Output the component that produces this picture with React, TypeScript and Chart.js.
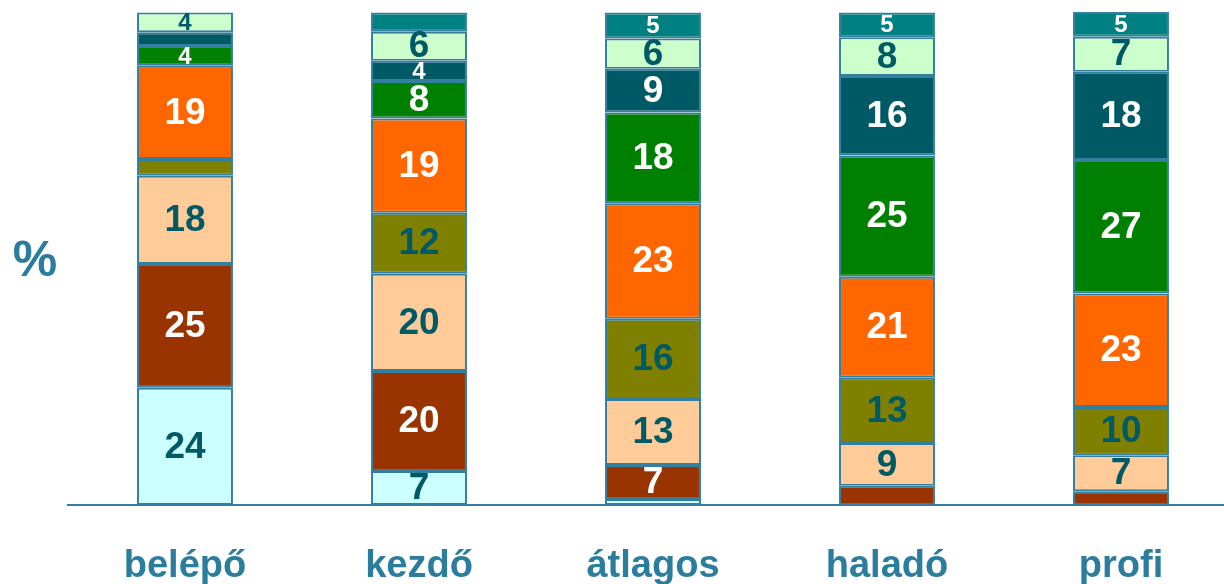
import React, { useEffect, useRef } from "react";
import { Chart, registerables } from "chart.js";

Chart.register(...registerables);

const categories = ["belépő", "kezdő", "átlagos", "haladó", "profi"];

// series from bottom to top of each bar (percent)
const lightCyan = [23.8, 6.9, 1.2, null, null];
const brown = [25.1, 20.3, 6.9, 3.9, 2.8];
const peach = [17.9, 19.7, 13.4, 8.7, 7.3];
const olive = [3.4, 12.4, 16.3, 13.2, 9.8];
const orange = [18.9, 19.1, 23.4, 20.5, 23.0];
const green = [4.0, 7.6, 18.4, 24.6, 27.1];
const darkTeal = [2.8, 4.1, 8.9, 16.1, 17.9];
const lightGreen = [4.0, 5.9, 6.1, 7.9, 7.1];
const teal = [null, 3.9, 5.3, 5.0, 5.0];

const yAxisTitle = "%";

const FONT = "'Liberation Sans', Arial, sans-serif";
const DARK_TEXT = "#005A66";
const AXIS_COLOR = "#347FA0";
const LABEL_COLOR = "#2B7D9E";

const seriesDefs = [
  { data: lightCyan, color: "#CCFFFF", text: DARK_TEXT },
  { data: brown, color: "#993300", text: "#FFFFFF" },
  { data: peach, color: "#FFCC99", text: DARK_TEXT },
  { data: olive, color: "#808000", text: DARK_TEXT },
  { data: orange, color: "#FF6600", text: "#FFFFFF" },
  { data: green, color: "#008000", text: "#FFFFFF" },
  { data: darkTeal, color: "#005A66", text: "#FFFFFF" },
  { data: lightGreen, color: "#CCFFCC", text: DARK_TEXT },
  { data: teal, color: "#008080", text: "#FFFFFF" },
];

const valueLabels = {
  id: "valueLabels",
  afterDatasetsDraw(chart: any) {
    const ctx = chart.ctx;
    ctx.save();
    ctx.textAlign = "center";
    ctx.textBaseline = "middle";
    chart.data.datasets.forEach((ds: any, di: number) => {
      const meta = chart.getDatasetMeta(di);
      meta.data.forEach((bar: any, i: number) => {
        const v = ds.data[i];
        if (v == null || v < 3.95) return;
        const top = Math.min(bar.y, bar.base);
        const h = Math.abs(bar.base - bar.y);
        const size = h >= 27 ? 37 : 24;
        ctx.font = `bold ${size}px ${FONT}`;
        ctx.fillStyle = seriesDefs[di].text;
        ctx.fillText(String(Math.round(v)), bar.x, top + h / 2 + 1);
      });
    });
    ctx.restore();
  },
};

const percentTitle = {
  id: "percentTitle",
  afterDraw(chart: any) {
    const ctx = chart.ctx;
    ctx.save();
    ctx.font = `bold 50px ${FONT}`;
    ctx.fillStyle = LABEL_COLOR;
    ctx.textAlign = "center";
    ctx.textBaseline = "alphabetic";
    ctx.fillText(yAxisTitle, 35, 276);
    ctx.restore();
  },
};

export default function App() {
  const ref = useRef<HTMLCanvasElement | null>(null);

  useEffect(() => {
    if (!ref.current) return;
    const chart = new Chart(ref.current, {
      type: "bar",
      data: {
        labels: categories,
        datasets: seriesDefs.map((s, i) => ({
          label: `S${i + 1}`,
          data: s.data as any,
          backgroundColor: s.color,
          borderColor: AXIS_COLOR,
          borderWidth: 2,
          borderSkipped: false,
          categoryPercentage: 1,
          barPercentage: 0.41,
        })),
      },
      options: {
        responsive: false,
        animation: false,
        devicePixelRatio: 1,
        layout: { padding: { left: 68, right: 0, top: 12, bottom: 4 } },
        plugins: {
          legend: { display: false },
          tooltip: { enabled: false },
          title: { display: false },
        },
        scales: {
          x: {
            stacked: true,
            grid: { display: false },
            border: { display: true, color: AXIS_COLOR, width: 2 },
            ticks: {
              color: LABEL_COLOR,
              padding: 35,
              font: { family: FONT, size: 38, weight: "bold", lineHeight: 1 },
              maxRotation: 0,
              autoSkip: false,
            },
          },
          y: {
            stacked: true,
            display: false,
            min: 0,
            max: 100,
          },
        },
      },
      plugins: [valueLabels, percentTitle],
    });
    return () => chart.destroy();
  }, []);

  return (
    <div
      style={{
        position: "fixed",
        left: 0,
        top: 0,
        width: 1224,
        height: 584,
        overflow: "hidden",
        background: "#FFFFFF",
      }}
    >
      <canvas ref={ref} width={1238} height={625} style={{ display: "block" }} />
    </div>
  );
}
